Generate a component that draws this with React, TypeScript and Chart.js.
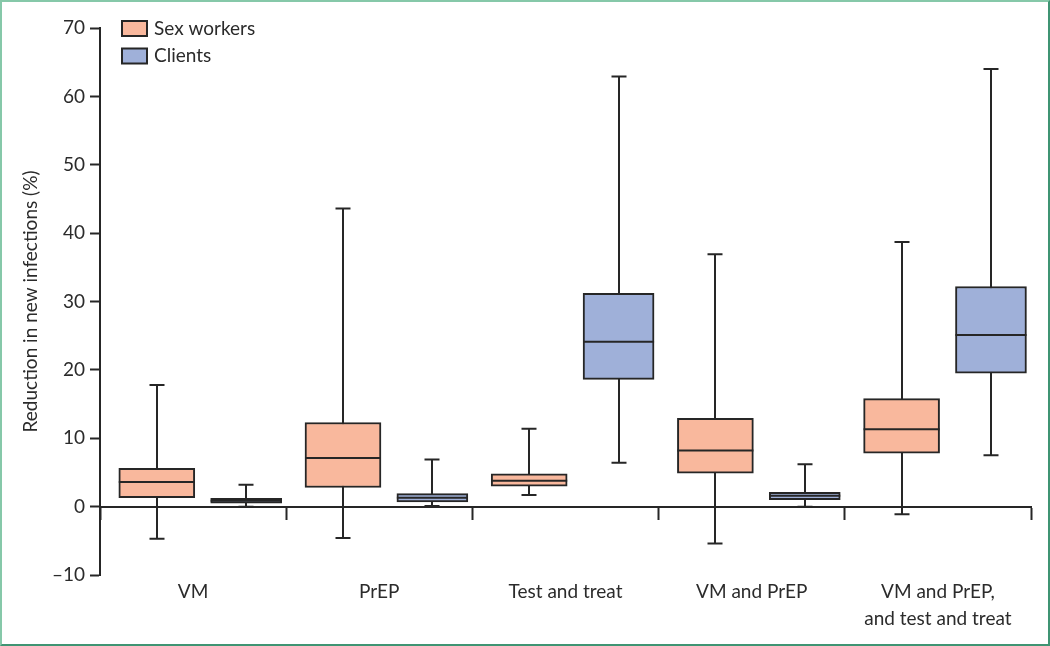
import React, { useEffect, useRef } from "react";
import { Chart, registerables } from "chart.js";

Chart.register(...registerables);

// ---- Data ----
const categories: (string | string[])[] = [
  "VM",
  "PrEP",
  "Test and treat",
  "VM and PrEP",
  ["VM and PrEP,", "and test and treat"],
];

const seriesLabels = ["Sex workers", "Clients"];

// Sex workers: whisker low, Q1, median, Q3, whisker high
const swLow = [-4.7, -4.6, 1.7, -5.4, -1.1];
const swQ1 = [1.3, 2.8, 3.0, 4.9, 7.8];
const swMedian = [3.6, 7.1, 3.8, 8.2, 11.3];
const swQ3 = [5.6, 12.3, 4.8, 12.9, 15.8];
const swHigh = [17.8, 43.6, 11.4, 36.9, 38.7];

// Clients
const clLow = [0.0, 0.1, 6.4, 0.0, 7.5];
const clQ1 = [0.5, 0.7, 18.6, 1.0, 19.5];
const clMedian = [0.85, 1.3, 24.1, 1.6, 25.1];
const clQ3 = [1.2, 1.9, 31.2, 2.1, 32.2];
const clHigh = [3.2, 6.9, 62.9, 6.2, 64.0];

const yMin = -10;
const yMax = 70;
const yStep = 10;

// ---- Styles ----
const FONT = "Lato, 'Open Sans', sans-serif";
const TEXT = "#2b2b2b";
const LINE = "#262626";
const SW_FILL = "#f9b89d";
const CL_FILL = "#9fb0d9";

const series = [
  { label: seriesLabels[0], low: swLow, q1: swQ1, med: swMedian, q3: swQ3, high: swHigh, fill: SW_FILL, offset: 0.305, thickness: 76 },
  { label: seriesLabels[1], low: clLow, q1: clQ1, med: clMedian, q3: clQ3, high: clHigh, fill: CL_FILL, offset: 0.785, thickness: 71 },
];

const boxPlugin = {
  id: "boxWhiskers",
  beforeDatasetsDraw(chart: any) {
    const ctx = chart.ctx;
    const y = chart.scales.y;
    ctx.save();
    ctx.strokeStyle = LINE;
    ctx.lineWidth = 2;
    series.forEach((s, d) => {
      const meta = chart.getDatasetMeta(d);
      meta.data.forEach((el: any, i: number) => {
        const x = Math.round(el.x);
        const yl = y.getPixelForValue(s.low[i]);
        const yh = y.getPixelForValue(s.high[i]);
        ctx.beginPath();
        ctx.moveTo(x, yl);
        ctx.lineTo(x, yh);
        ctx.moveTo(x - 7.5, yl);
        ctx.lineTo(x + 7.5, yl);
        ctx.moveTo(x - 7.5, yh);
        ctx.lineTo(x + 7.5, yh);
        ctx.stroke();
      });
    });
    ctx.restore();
  },
  afterDatasetsDraw(chart: any) {
    const ctx = chart.ctx;
    const y = chart.scales.y;
    ctx.save();
    ctx.strokeStyle = LINE;
    ctx.lineWidth = 2;
    series.forEach((s, d) => {
      const meta = chart.getDatasetMeta(d);
      meta.data.forEach((el: any, i: number) => {
        const ym = y.getPixelForValue(s.med[i]);
        ctx.beginPath();
        ctx.moveTo(el.x - el.width / 2, ym);
        ctx.lineTo(el.x + el.width / 2, ym);
        ctx.stroke();
      });
    });
    // legend
    ctx.font = `19px ${FONT}`;
    ctx.textBaseline = "middle";
    ctx.textAlign = "left";
    series.forEach((s, k) => {
      const top = 21 + k * 27.5;
      ctx.fillStyle = s.fill;
      ctx.fillRect(122, top, 25, 15);
      ctx.strokeStyle = LINE;
      ctx.lineWidth = 2;
      ctx.strokeRect(122, top, 25, 15);
      ctx.fillStyle = TEXT;
      ctx.fillText(s.label, 154, top + 7.5);
    });
    ctx.restore();
  },
};

export default function App() {
  const canvasRef = useRef<HTMLCanvasElement | null>(null);

  useEffect(() => {
    if (!canvasRef.current) return;
    const chart = new Chart(canvasRef.current, {
      type: "bar",
      data: {
        datasets: series.map((s) => ({
          label: s.label,
          data: s.q1.map((q, i) => ({ x: i + s.offset, y: [q, s.q3[i]] })) as any,
          backgroundColor: s.fill,
          borderColor: LINE,
          borderWidth: 2,
          borderSkipped: false,
          barThickness: s.thickness,
          grouped: false,
          xAxisID: "x",
          yAxisID: "y",
        })),
      },
      options: {
        animation: false,
        responsive: true,
        maintainAspectRatio: false,
        events: [],
        layout: { padding: { top: 28, right: 19, bottom: 0, left: 0 } },
        plugins: {
          legend: { display: false },
          tooltip: { enabled: false },
        },
        scales: {
          x: {
            type: "linear",
            position: { y: 0 } as any,
            offset: false,
            min: 0,
            max: categories.length,
            ticks: { display: false, stepSize: 1 },
            grid: { drawOnChartArea: false, offset: false, tickLength: 12, tickWidth: 2, tickColor: LINE },
            border: { color: LINE, width: 2 },
          },
          x2: {
            type: "linear",
            position: "bottom",
            offset: false,
            min: 0,
            max: categories.length,
            afterBuildTicks: (s: any) => {
              s.ticks = categories.map((_, i) => ({ value: i + 0.5 }));
            },
            afterFit: (s: any) => {
              s.height = 71;
            },
            ticks: {
              autoSkip: false,
              maxRotation: 0,
              minRotation: 0,
              color: TEXT,
              padding: -5,
              font: { family: FONT, size: 19, lineHeight: 1.45 },
              callback: (_v: any, i: number) => categories[i] as any,
            },
            grid: { display: false, offset: false },
            border: { display: false },
          },
          y: {
            type: "linear",
            position: "left",
            min: yMin,
            max: yMax,
            afterFit: (s: any) => {
              s.width = 100;
            },
            ticks: {
              stepSize: yStep,
              color: TEXT,
              padding: 5,
              font: { family: FONT, size: 19 },
              callback: (v: any) => (Number(v) < 0 ? "\u2013" + Math.abs(Number(v)) : String(v)),
            },
            grid: { drawOnChartArea: false, tickLength: 10, tickWidth: 2, tickColor: LINE },
            border: { color: LINE, width: 2 },
            title: {
              display: true,
              text: "Reduction in new infections (%)",
              color: TEXT,
              font: { family: FONT, size: 19 },
              padding: { top: 19, bottom: 0 },
            },
          },
        },
      },
      plugins: [boxPlugin],
    });
    return () => chart.destroy();
  }, []);

  return (
    <div style={{ position: "fixed", left: 0, top: 0, width: 1050, height: 646, background: "#ffffff" }}>
      <canvas ref={canvasRef} />
      <div
        style={{
          position: "absolute",
          left: 0,
          top: 0,
          width: 1050,
          height: 646,
          boxSizing: "border-box",
          borderTop: "2px solid #86c8a9",
          borderLeft: "2px solid #86c8a9",
          borderBottom: "2px solid #3f9473",
          borderRight: "2px solid #3f9473",
          pointerEvents: "none",
        }}
      />
    </div>
  );
}
